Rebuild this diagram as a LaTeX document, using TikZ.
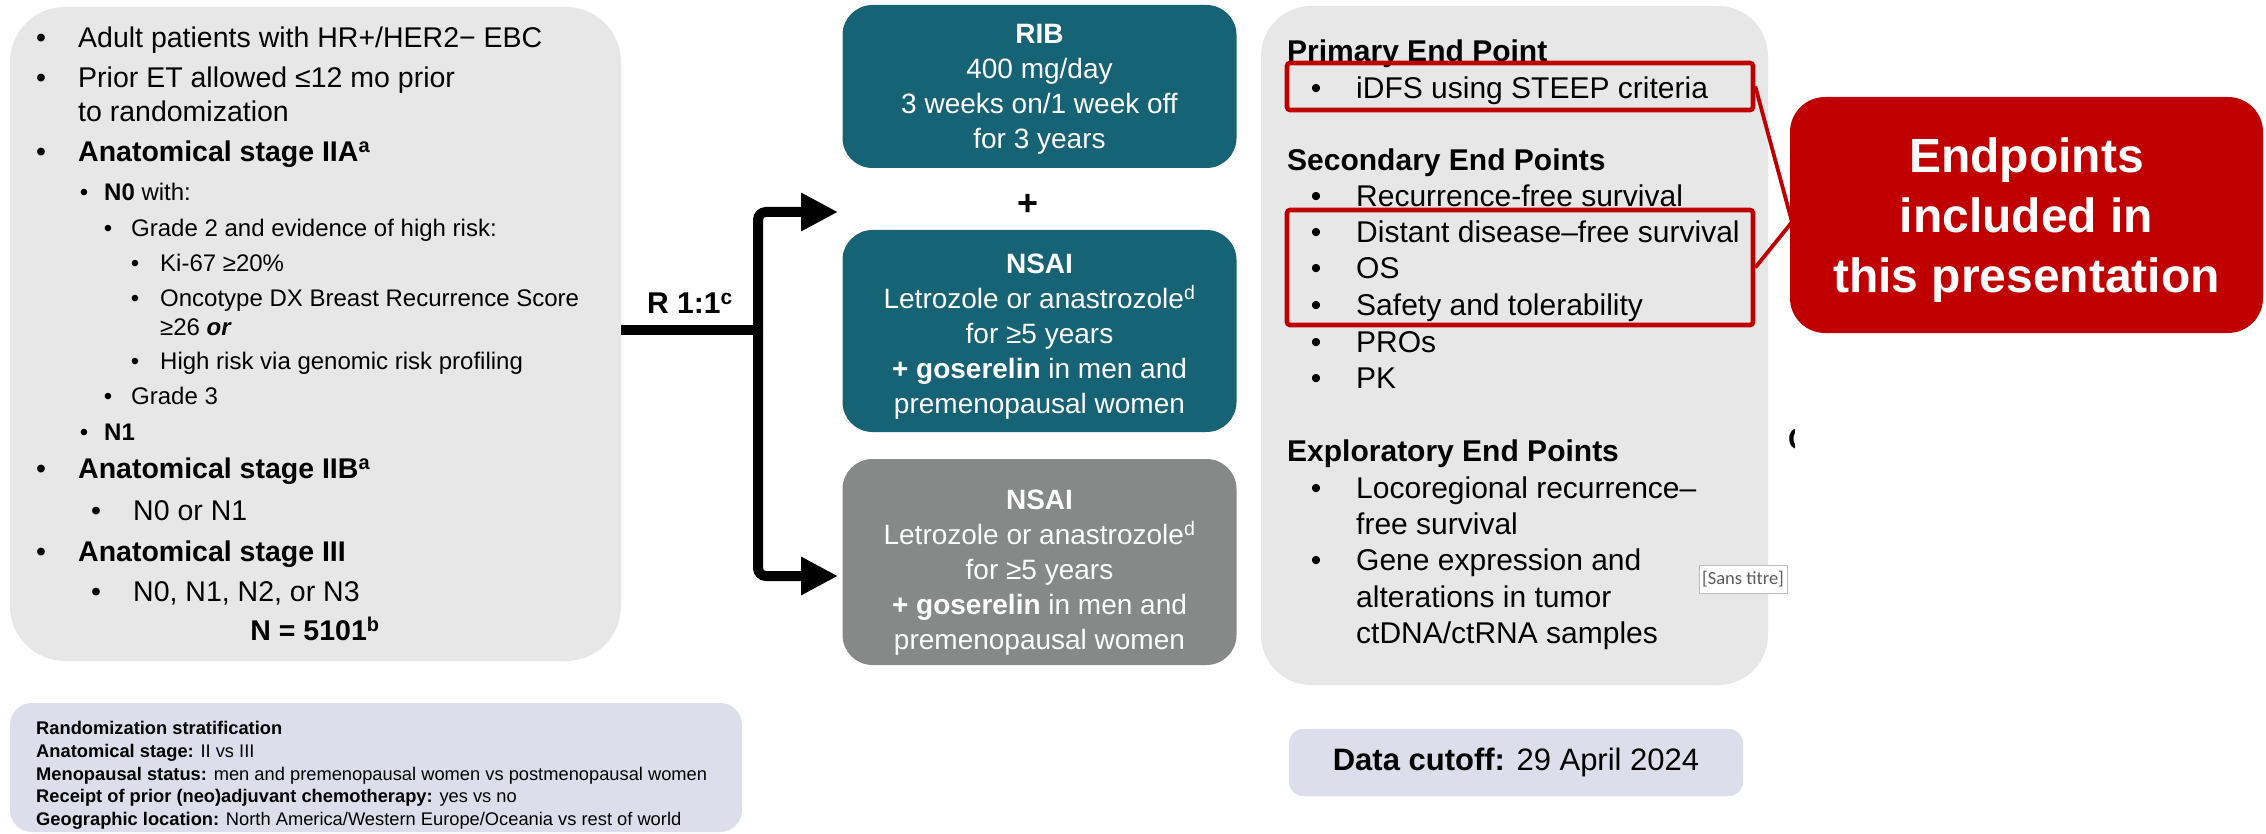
\documentclass[tikz,border=0pt]{standalone}
\usepackage{fontspec}
\setmainfont{Liberation Sans}
\newfontfamily\carl{Carlito}
\usetikzlibrary{arrows.meta}
\definecolor{tealb}{RGB}{22,99,117}
\definecolor{grayb}{RGB}{134,137,135}
\definecolor{lgray}{RGB}{231,231,231}
\definecolor{lav}{RGB}{220,223,235}
\definecolor{dred}{RGB}{192,0,0}
\def\dy{0}
\newcommand\bitem[6]{%
  \node[#2,anchor=mid] (#1b) at (#3,{#5+\dy}) {\textbullet};
  \node[#2,anchor=mid west] (#1) at (#4,{#5+\dy}) {#6};}
\newcommand\titem[5]{\node[#2,anchor=mid west] (#1) at (#3,{#4+\dy}) {#5};}
\tikzset{
  txt/.style={inner sep=0pt, text=black},
  fA/.style={txt, font=\fontsize{28.5}{34}\selectfont},
  fB/.style={txt, font=\fontsize{24}{29}\selectfont},
  fR/.style={txt, font=\fontsize{30}{36}\selectfont},
  fS/.style={txt, font=\fontsize{18.3}{22}\selectfont},
  panel/.style={fill=#1, draw=none, inner sep=0pt},
  armbox/.style={fill=#1, draw=none, text=white, align=center, inner sep=0pt,
    minimum width=394pt, font=\fontsize{28}{35}\selectfont},
  armtext/.style={txt, text=white, align=center, font=\fontsize{28}{35}\selectfont},
  arr/.style={line width=10pt, -{Triangle[length=37pt,width=36pt]}, rounded corners=8pt},
  redbox/.style={draw=dred, line width=4.6pt, rounded corners=3pt, inner sep=0pt},
  redline/.style={draw=dred, line width=3.8pt},
}
\begin{document}
\begin{tikzpicture}[x=1pt,y=-1pt]
\useasboundingbox[fill=white] (0,0) rectangle (2266,834);

% ---------- panels ----------
\node[panel=lgray, minimum width=611pt, minimum height=654pt, rounded corners=55pt] (lbox) at (315.5,334) {};
\node[panel=lav, minimum width=732pt, minimum height=129pt, rounded corners=22pt] (strat) at (376,767.5) {};
\node[panel=lgray, minimum width=507pt, minimum height=679pt, rounded corners=50pt] (rbox) at (1514.5,345.5) {};
\node[panel=lav, minimum width=454pt, minimum height=67pt, rounded corners=14pt] (data) at (1516,762.5) {};

% ---------- eligibility ----------
\def\dy{7}
\bitem{a1}{fA}{41}{78}{38}{Adult patients with HR+/HER2− EBC}
\bitem{a2}{fA}{41}{78}{78}{Prior ET allowed ≤12 mo prior}
\titem{a3}{fA}{78}{112}{to randomization}
\bitem{a4}{fA}{41}{78}{152}{\textbf{Anatomical stage IIA\textsuperscript{a}}}
\bitem{a5}{fB}{84}{104}{191}{\textbf{N0} with:}
\bitem{a6}{fB}{108}{131}{227}{Grade 2 and evidence of high risk:}
\bitem{a7}{fB}{135}{160}{262}{Ki-67 ≥20\%}
\bitem{a8}{fB}{135}{160}{297}{Oncotype DX Breast Recurrence Score}
\titem{a9}{fB}{160}{326}{≥26 \textbf{\textit{or}}}
\bitem{a10}{fB}{135}{160}{360}{High risk via genomic risk profiling}
\bitem{a11}{fB}{108}{131}{395}{Grade 3}
\bitem{a12}{fB}{84}{104}{431}{\textbf{N1}}
\bitem{a13}{fA}{41}{78}{469}{\textbf{Anatomical stage IIB\textsuperscript{a}}}
\bitem{a14}{fA}{96}{133}{511}{N0 or N1}
\bitem{a15}{fA}{41}{78}{552}{\textbf{Anatomical stage III}}
\bitem{a16}{fA}{96}{133}{592}{N0, N1, N2, or N3}
\node[fA,anchor=mid] (a17) at (315,638) {\textbf{N = 5101\textsuperscript{b}}};

% ---------- stratification ----------
\def\dy{5}
\titem{s1}{fS}{36}{727}{\textbf{Randomization stratification}}
\titem{s2}{fS}{36}{749.75}{\textbf{Anatomical stage:} II vs III}
\titem{s3}{fS}{36}{772.5}{\textbf{Menopausal status:} men and premenopausal women vs postmenopausal women}
\titem{s4}{fS}{36}{795.25}{\textbf{Receipt of prior (neo)adjuvant chemotherapy:} yes vs no}
\titem{s5}{fS}{36}{818}{\textbf{Geographic location:} North America/Western Europe/Oceania vs rest of world}

% ---------- arms ----------
\node[armbox=tealb, minimum height=163pt, rounded corners=30pt] (rib) at (1039.5,86.5) {};
\node[armtext] (ribt) at (1039.5,89.5) {\textbf{RIB}\\400 mg/day\\3 weeks on/1 week off\\for 3 years};
\node[txt, font=\fontsize{36}{40}\selectfont\bfseries, anchor=mid] (plus) at (1028,213) {+};
\node[armbox=tealb, minimum height=202pt, rounded corners=30pt] (nsai1) at (1039.5,331) {};
\node[armtext] (nsai1t) at (1039.5,337)
  {\textbf{NSAI}\\Letrozole or anastrozole\textsuperscript{d}\\for ≥5 years\\\textbf{+ goserelin} in men and\\premenopausal women};
\node[armbox=grayb, minimum height=206pt, rounded corners=30pt] (nsai2) at (1039.5,562) {};
\node[armtext] (nsai2t) at (1039.5,573)
  {\textbf{NSAI}\\Letrozole or anastrozole\textsuperscript{d}\\for ≥5 years\\\textbf{+ goserelin} in men and\\premenopausal women};

% ---------- randomization arrows ----------
\coordinate (split) at (758,330);
\coordinate (topend) at (838,212);
\coordinate (botend) at (838,576);
\draw[line width=10pt] (lbox.east |- split) -- (split);
\draw[arr] (split) |- (topend);
\draw[arr] (split) |- (botend);
\node[txt, font=\fontsize{30}{36}\selectfont\bfseries, anchor=mid] (rlab) at (690,311) {R 1:1\textsuperscript{c}};

% ---------- end points ----------
\def\dy{8}
\titem{r1}{fR}{1287}{51}{\textbf{Primary End Point}}
\bitem{r2}{fR}{1316}{1356}{88}{iDFS using STEEP criteria}
\titem{r3}{fR}{1287}{160}{\textbf{Secondary End Points}}
\bitem{r4}{fR}{1316}{1356}{196}{Recurrence-free survival}
\bitem{r5}{fR}{1316}{1356}{232}{Distant disease–free survival}
\bitem{r6}{fR}{1316}{1356}{268}{OS}
\bitem{r7}{fR}{1316}{1356}{305}{Safety and tolerability}
\bitem{r8}{fR}{1316}{1356}{342}{PROs}
\bitem{r9}{fR}{1316}{1356}{378}{PK}
\titem{r10}{fR}{1287}{451}{\textbf{Exploratory End Points}}
\bitem{r11}{fR}{1316}{1356}{488}{Locoregional recurrence–}
\titem{r12}{fR}{1356}{524}{free survival}
\bitem{r13}{fR}{1316}{1356}{560}{Gene expression and}
\titem{r14}{fR}{1356}{597}{alterations in tumor}
\titem{r15}{fR}{1356}{633}{ctDNA/ctRNA samples}

% ---------- highlight boxes and callout ----------
\node[redbox, minimum width=466pt, minimum height=47pt] (rc1) at (1520,86.5) {};
\node[redbox, minimum width=466pt, minimum height=115pt] (rc2) at (1520,267.5) {};
\coordinate (cv) at (1792,222);
\draw[redline] (rc1.east) -- (cv);
\draw[redline] (rc2.east) -- (cv);
\node[panel=dred, minimum width=473pt, minimum height=236pt, rounded corners=35pt] (call) at (2026.5,215) {};
\node[txt, text=white, align=center, font=\fontsize{48}{60}\selectfont\bfseries] (callt) at (2026.5,220)
  {Endpoints\\included in\\this presentation};

% ---------- small extras ----------
\node[fill=white, draw={rgb,255:red,190;green,190;blue,190}, line width=1pt, inner sep=0pt,
  minimum width=88pt, minimum height=28pt, text={rgb,255:red,90;green,90;blue,90},
  font=\carl\fontsize{18.5}{20}\selectfont] (sans) at (1743,579) {[Sans titre]};
\begin{scope}
  \clip (1785,425) rectangle (1794,465);
  \node[txt, font=\fontsize{30}{36}\selectfont\bfseries, anchor=mid] (cut) at (1799,447) {C};
\end{scope}

% ---------- data cutoff ----------
\node[txt, font=\fontsize{31}{36}\selectfont, anchor=mid] (datat) at (1516,768) {\textbf{Data cutoff:} 29 April 2024};
\end{tikzpicture}
\end{document}
